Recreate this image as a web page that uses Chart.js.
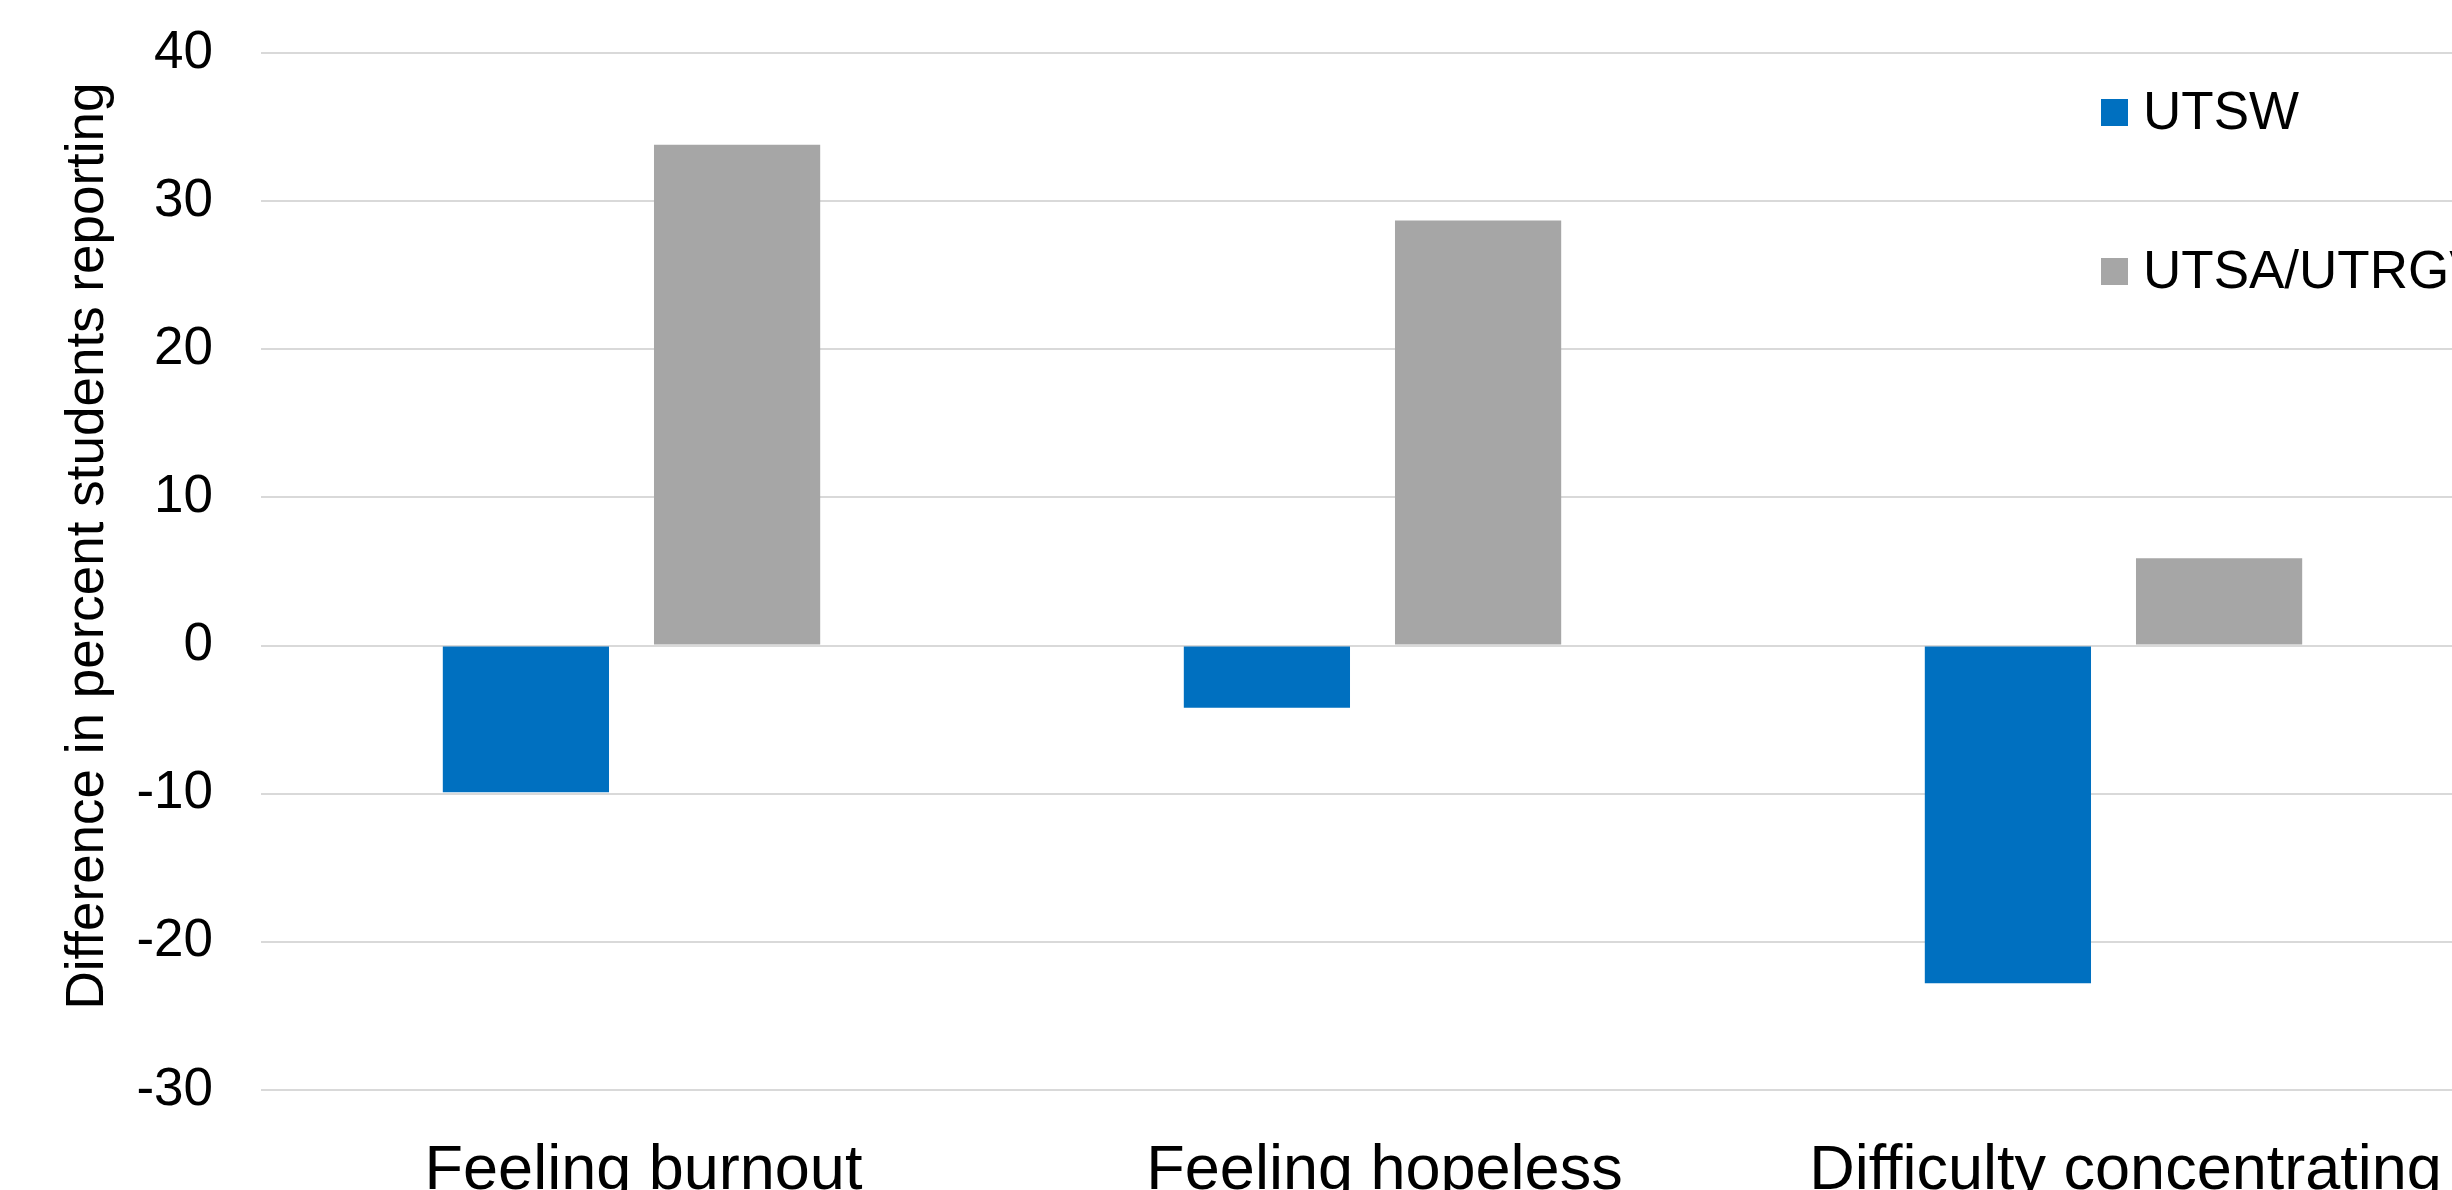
<!DOCTYPE html>
<html>
<head>
<meta charset="utf-8">
<script src="https://cdn.jsdelivr.net/npm/chart.js@4/dist/chart.umd.min.js"></script>
<style>
  html, body { margin: 0; padding: 0; background: #fff; overflow: hidden; }
  #wrap { position: absolute; left: 0; top: 0; width: 2484px; height: 1240px; }
</style>
</head>
<body>
<div id="wrap"><canvas id="graph"></canvas></div>
<script>
// categories and series
const categories = ['Feeling burnout', 'Feeling hopeless', 'Difficulty concentrating'];
const seriesNames = ['UTSW', 'UTSA/UTRGV'];
const utswValues = [-9.9, -4.2, -22.8];
const utsaValues = [33.8, 28.7, 5.9];
const yMin = -30;
const yMax = 40;
const yStep = 10;
const yTitle = 'Difference in percent students reporting';

const FONT = '"Liberation Sans", Arial, sans-serif';

//---------------------------------------------
// legend sits inside the plot on the right, like the Excel original
const sideLegend = {
  id: 'sideLegend',
  afterDraw(chart) {
    const ctx = chart.ctx;
    ctx.save();
    ctx.font = '53px ' + FONT;
    ctx.textBaseline = 'alphabetic';
    chart.data.datasets.forEach((ds, i) => {
      const y = 129 + i * 159;
      ctx.fillStyle = ds.backgroundColor;
      ctx.fillRect(2101, y - 30, 27, 27);
      ctx.fillStyle = '#000';
      ctx.fillText(ds.label, 2143, y);
    });
    ctx.restore();
  }
};

// the axis title in the original sits a bit above the plot centre,
// so it is drawn here instead of with the scale's own title
const axisTitle = {
  id: 'axisTitle',
  afterDraw(chart) {
    const ctx = chart.ctx;
    ctx.save();
    ctx.font = '53px ' + FONT;
    ctx.fillStyle = '#000';
    ctx.textAlign = 'center';
    ctx.textBaseline = 'alphabetic';
    ctx.translate(103, 546);
    ctx.rotate(-Math.PI / 2);
    ctx.fillText(yTitle, 0, 0);
    ctx.restore();
  }
};

const cfg = {
  type: 'bar',
  data: {
    labels: categories,
    datasets: [
      { label: seriesNames[0], data: utswValues, backgroundColor: '#0070C0' },
      { label: seriesNames[1], data: utsaValues, backgroundColor: '#A6A6A6' }
    ]
  },
  options: {
    responsive: true,
    maintainAspectRatio: false,
    animation: false,
    categoryPercentage: 0.57,
    barPercentage: 0.787,
    layout: { padding: { top: 53, left: 0, right: 0, bottom: 0 } },
    plugins: {
      legend: { display: false },
      tooltip: { enabled: false }
    },
    scales: {
      x: {
        grid: { display: false },
        border: { display: false },
        ticks: { color: '#000', font: { family: FONT, size: 63 }, padding: 36, labelOffset: 12, maxRotation: 0 },
        afterFit(scale) { scale.height = 150; }
      },
      y: {
        min: yMin,
        max: yMax,
        grid: { color: '#d9d9d9', lineWidth: 2, drawTicks: false },
        border: { display: false },
        ticks: { stepSize: yStep, color: '#000', font: { family: FONT, size: 53 }, padding: 48 },
        // fixed width (room for the title), and don't let the tick padding push the plot down
        afterFit(scale) {
          scale.width = 261;
          scale.paddingTop = 30;
        }
      }
    }
  },
  plugins: [sideLegend, axisTitle]
};

new Chart(document.getElementById('graph'), cfg);
</script>
</body>
</html>
